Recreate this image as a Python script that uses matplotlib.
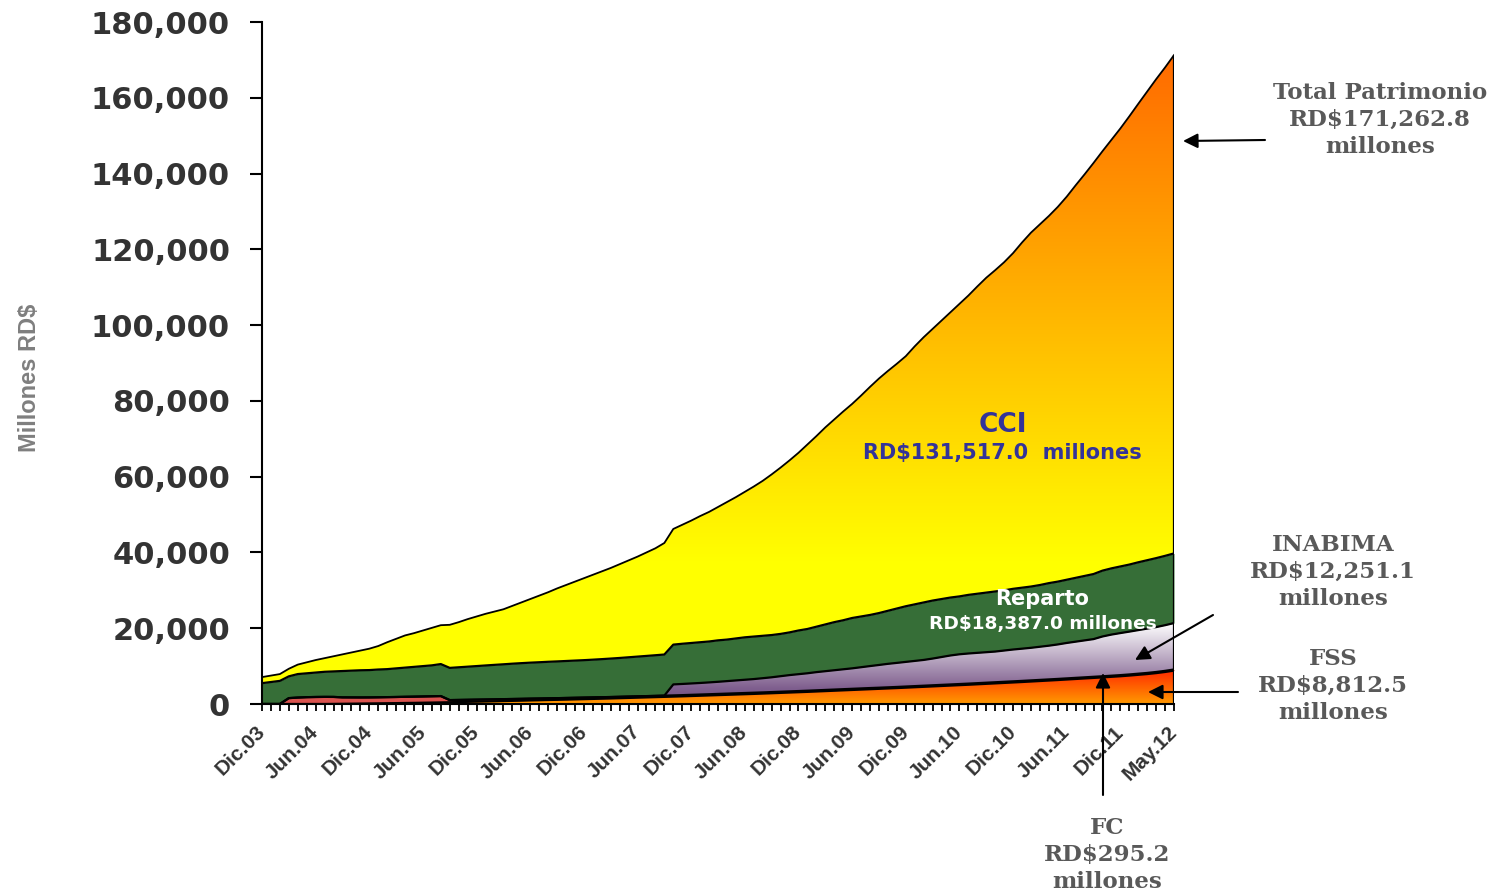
import numpy as np
import matplotlib
matplotlib.use("Agg")
import matplotlib.pyplot as plt
from matplotlib.colors import LinearSegmentedColormap

# Patrimonio de los fondos de pensiones, miles de millones RD$ (Dic.03 - May.12, mensual)
fss = [0, 0, 0, 0, 0, 0, 0, 0, 0.02, 0.05,
       0.08, 0.11, 0.14, 0.17, 0.2, 0.23, 0.27, 0.3, 0.34, 0.38,
       0.42, 0.47, 0.52, 0.57, 0.62, 0.67, 0.72, 0.78, 0.83, 0.88,
       0.94, 0.99, 1.05, 1.1, 1.16, 1.22, 1.28, 1.34, 1.4, 1.46,
       1.53, 1.6, 1.67, 1.74, 1.81, 1.88, 1.95, 2.02, 2.1, 2.18,
       2.26, 2.34, 2.42, 2.5, 2.58, 2.66, 2.75, 2.84, 2.93, 3.02,
       3.11, 3.2, 3.3, 3.4, 3.5, 3.6, 3.7, 3.8, 3.9, 4.0,
       4.1, 4.2, 4.31, 4.42, 4.53, 4.64, 4.75, 4.86, 4.97, 5.08,
       5.2, 5.32, 5.44, 5.56, 5.68, 5.8, 5.93, 6.06, 6.19, 6.32,
       6.46, 6.6, 6.74, 6.88, 7.02, 7.17, 7.32, 7.5, 7.7, 7.9,
       8.15, 8.45, 8.8125]
fc = [0, 0, 0, 1.55, 1.7, 1.8, 1.85, 1.88, 1.85, 1.7,
      1.66, 1.62, 1.6, 1.6, 1.61, 1.62, 1.63, 1.64, 1.65, 1.66,
      1.67, 0.56, 0.55, 0.54, 0.53, 0.52, 0.51, 0.5, 0.49, 0.48,
      0.47, 0.46, 0.45, 0.44, 0.43, 0.42, 0.41, 0.4, 0.39, 0.38,
      0.37, 0.36, 0.35, 0.34, 0.33, 0.33, 0.32, 0.32, 0.32, 0.32,
      0.32, 0.32, 0.32, 0.32, 0.32, 0.32, 0.31, 0.31, 0.31, 0.31,
      0.31, 0.31, 0.31, 0.31, 0.31, 0.31, 0.31, 0.31, 0.31, 0.3,
      0.3, 0.3, 0.3, 0.3, 0.3, 0.3, 0.3, 0.3, 0.3, 0.3,
      0.3, 0.3, 0.3, 0.3, 0.3, 0.3, 0.3, 0.3, 0.3, 0.3,
      0.3, 0.3, 0.3, 0.3, 0.3, 0.3, 0.3, 0.3, 0.3, 0.3,
      0.3, 0.3, 0.2952]
inabima = [0, 0, 0, 0, 0, 0, 0, 0, 0, 0,
           0, 0, 0, 0, 0, 0, 0, 0, 0, 0,
           0, 0, 0, 0, 0, 0, 0, 0, 0, 0,
           0, 0, 0, 0, 0, 0, 0, 0, 0, 0,
           0, 0, 0, 0, 0, 0, 2.9, 2.95, 3.0, 3.05,
           3.12, 3.2, 3.3, 3.4, 3.5, 3.6, 3.75, 3.9, 4.1, 4.3,
           4.45, 4.6, 4.8, 4.95, 5.1, 5.25, 5.4, 5.6, 5.8, 6.0,
           6.2, 6.35, 6.5, 6.65, 6.8, 7.05, 7.35, 7.65, 7.85, 7.95,
           8.0, 8.05, 8.1, 8.25, 8.4, 8.5, 8.6, 8.75, 8.9, 9.1,
           9.35, 9.55, 9.75, 9.95, 10.5, 10.85, 11.1, 11.3, 11.5, 11.7,
           11.85, 12.05, 12.2511]
reparto = [5.5, 5.8, 6.1, 5.75, 6.2, 6.3, 6.45, 6.62, 6.73, 6.95,
           7.06, 7.17, 7.21, 7.33, 7.39, 7.55, 7.7, 7.86, 8.01, 8.16,
           8.45, 8.5, 8.62, 8.74, 8.86, 8.98, 9.1, 9.2, 9.32, 9.42,
           9.5, 9.57, 9.64, 9.7, 9.76, 9.82, 9.88, 9.96, 10.05, 10.15,
           10.25, 10.37, 10.49, 10.61, 10.73, 10.85, 10.5, 10.61, 10.68, 10.75,
           10.8, 10.94, 10.96, 11.08, 11.2, 11.22, 11.19, 11.15, 11.16, 11.27,
           11.53, 11.69, 11.99, 12.34, 12.69, 12.94, 13.29, 13.39, 13.49, 13.7,
           14.0, 14.35, 14.69, 14.93, 15.17, 15.31, 15.3, 15.29, 15.28, 15.47,
           15.6, 15.73, 15.86, 15.89, 16.02, 16.1, 16.17, 16.29, 16.51, 16.58,
           16.69, 16.85, 17.01, 17.17, 17.38, 17.48, 17.58, 17.7, 17.9, 18.05,
           18.2, 18.3, 18.387]
cci = [1.6, 1.7, 1.8, 2.0, 2.5, 2.9, 3.3, 3.6, 4.0, 4.4,
       4.8, 5.2, 5.65, 6.2, 7.1, 7.8, 8.5, 8.9, 9.4, 9.9,
       10.26, 11.37, 11.91, 12.55, 13.09, 13.63, 14.07, 14.52, 15.26, 16.02,
       16.79, 17.58, 18.36, 19.26, 20.05, 20.84, 21.63, 22.4, 23.16, 23.91,
       24.75, 25.57, 26.39, 27.31, 28.23, 29.44, 30.53, 31.4, 32.3, 33.3,
       34.2, 35.2, 36.3, 37.3, 38.4, 39.6, 40.9, 42.4, 43.9, 45.4,
       46.9, 48.7, 50.3, 52.0, 53.5, 55.1, 56.5, 58.3, 60.2, 61.9,
       63.3, 64.6, 66.0, 68.1, 70.0, 71.7, 73.5, 75.3, 77.2, 79.0,
       81.1, 83.1, 84.8, 86.6, 88.6, 91.1, 93.4, 95.2, 96.9, 98.9,
       101.1, 103.6, 106.0, 108.5, 110.7, 113.1, 115.6, 118.3, 121.0, 123.7,
       126.4, 128.9, 131.517]

etiquetas = ["Dic.03", "Jun.04", "Dic.04", "Jun.05", "Dic.05", "Jun.06", "Dic.06",
             "Jun.07", "Dic.07", "Jun.08", "Dic.08", "Jun.09", "Dic.09", "Jun.10",
             "Dic.10", "Jun.11", "Dic.11", "May.12"]
pos_etiquetas = [0, 6, 12, 18, 24, 30, 36, 42, 48, 54, 60, 66, 72, 78, 84, 90, 96, 102]

W, H = 1503, 892
fig = plt.figure(figsize=(W / 100, H / 100), dpi=100)
ax = fig.add_axes([262 / W, 1 - 704 / H, (1174 - 262) / W, (704 - 22) / H])

meses = np.arange(len(cci))
b1 = np.array(fss) * 1000
b2 = b1 + np.array(fc) * 1000
b3 = b2 + np.array(inabima) * 1000
b4 = b3 + np.array(reparto) * 1000
b5 = b4 + np.array(cci) * 1000


def relleno_degradado(y0, y1, stops, vmax, z):
    poly = ax.fill_between(meses, y0, y1, facecolor="none", edgecolor="none")
    cmap = LinearSegmentedColormap.from_list("g", stops)
    grad = np.linspace(0, 1, 256).reshape(-1, 1)
    im = ax.imshow(grad, extent=[meses[0], meses[-1], 0, vmax], origin="lower",
                   aspect="auto", cmap=cmap, zorder=z, interpolation="bilinear")
    im.set_clip_path(poly.get_paths()[0], ax.transData)


relleno_degradado(0, b1, [(0, "#FF9A00"), (1, "#FF2A00")], b1.max(), 1)
ax.fill_between(meses, b1, b2, color="#D9534F", zorder=1, lw=0)
relleno_degradado(b2, b3, [(0, "#6B4A7D"), (0.2, "#80608F"), (1, "#FFFFFF")], b3.max(), 1)
ax.fill_between(meses, b3, b4, color="#366E37", zorder=1, lw=0)
relleno_degradado(b4, b5, [(0, "#FFFF00"), (0.22, "#FFFF00"), (1, "#FF6A00")], b5.max(), 1)

for b in [b1, b2, b3, b4]:
    ax.plot(meses, b, color="black", lw=1.6, zorder=3)
ax.plot(meses, b5, color="black", lw=1.3, zorder=3)
ax.vlines(meses[-1], 0, b5[-1], color="black", lw=1.6, zorder=3)

ax.set_xlim(0, 102)
ax.set_ylim(0, 180000)
for s in ["top", "right"]:
    ax.spines[s].set_visible(False)
ax.spines["left"].set_linewidth(1.5)
ax.spines["bottom"].set_linewidth(1.5)
ax.spines["bottom"].set_zorder(4)

ax.set_yticks(np.arange(0, 180001, 20000))
ax.set_yticklabels(["{:,}".format(v) for v in range(0, 180001, 20000)],
                   fontsize=22, fontweight="bold", color="#333333")
ax.tick_params(axis="y", length=9, width=1.5, pad=14)

ax.set_xticks(meses, minor=True)
ax.set_xticks(pos_etiquetas)
ax.set_xticklabels(etiquetas, rotation=45, ha="right", va="center",
                   rotation_mode="anchor", fontsize=15, fontweight="bold",
                   color="#333333", family="Liberation Sans")
ax.tick_params(axis="x", which="both", length=5, width=1.3, pad=13)

fig.text(30 / W, 1 - 378 / H, "Millones RD$", rotation=90, ha="center", va="center",
         fontsize=17, fontweight="bold", color="#7F7F7F", family="Liberation Sans")

# Etiquetas dentro del grafico
fig.text(1003 / W, 1 - 425 / H, "CCI", ha="center", va="center",
         fontsize=19, fontweight="bold", color="#333399")
fig.text(1002 / W, 1 - 453 / H, "RD$131,517.0  millones", ha="center", va="center",
         fontsize=15, fontweight="bold", color="#333399")
fig.text(1042 / W, 1 - 599 / H, "Reparto", ha="center", va="center",
         fontsize=15, fontweight="bold", color="white")
fig.text(1043 / W, 1 - 624 / H, "RD$18,387.0 millones", ha="center", va="center",
         fontsize=13.3, fontweight="bold", color="white")

notas = [("Total Patrimonio\nRD$171,262.8\nmillones", 1380, 120),
         ("INABIMA\nRD$12,251.1\nmillones", 1333, 572),
         ("FSS\nRD$8,812.5\nmillones", 1333, 686),
         ("FC\nRD$295.2\nmillones", 1107, 855)]
for txt, x, y in notas:
    fig.text(x / W, 1 - y / H, txt, ha="center", va="center", ma="center",
             fontsize=16.5, fontweight="bold", color="#595959", family="DejaVu Serif",
             linespacing=1.3)

flechas = [((1265, 140), (1183, 141)),
           ((1213, 615), (1135, 660)),
           ((1238, 692), (1148, 692)),
           ((1103, 795), (1103, 673))]
for (x0, y0), (x1, y1) in flechas:
    ax.annotate("", xy=(x1 / W, 1 - y1 / H), xytext=(x0 / W, 1 - y0 / H),
                xycoords="figure fraction", textcoords="figure fraction",
                arrowprops=dict(arrowstyle="-|>", color="black", lw=1.5,
                                mutation_scale=22, shrinkA=0, shrinkB=0),
                annotation_clip=False, zorder=6)

fig.savefig("out.png", dpi=100)
